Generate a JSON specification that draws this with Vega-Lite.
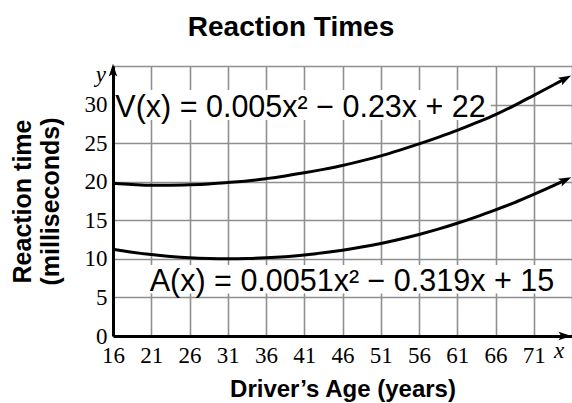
{
  "$schema": "https://vega.github.io/schema/vega-lite/v6.json",
  "width": 459,
  "height": 270,
  "autosize": {"type": "none"},
  "padding": {"left": 113, "top": 66, "right": 0, "bottom": 67},
  "background": "white",
  "title": {
    "text": "Reaction Times",
    "font": "Liberation Sans",
    "fontSize": 28,
    "fontWeight": "bold",
    "color": "black",
    "anchor": "middle",
    "frame": "bounds",
    "offset": 13
  },
  "config": {
    "view": {"stroke": null},
    "axis": {
      "grid": true,
      "gridColor": "#8f8f8f",
      "gridWidth": 1.6,
      "gridOpacity": 1,
      "domainColor": "black",
      "domainWidth": 3,
      "ticks": false,
      "tickCount": 30,
      "labelOverlap": false,
      "labelFlush": false,
      "labelColor": "black",
      "labelFont": "Liberation Serif",
      "labelFontSize": 23,
      "titleColor": "black",
      "titleFont": "Liberation Sans",
      "titleFontWeight": "bold",
      "titleFontSize": 24
    }
  },
  "datasets": {
    "curves": [
      {"age": 16, "ms": 19.8, "f": "V"},
      {"age": 18.5, "ms": 19.65, "f": "V"},
      {"age": 21, "ms": 19.55, "f": "V"},
      {"age": 23.5, "ms": 19.55, "f": "V"},
      {"age": 26, "ms": 19.6, "f": "V"},
      {"age": 28.5, "ms": 19.7, "f": "V"},
      {"age": 31, "ms": 19.9, "f": "V"},
      {"age": 33.5, "ms": 20.1, "f": "V"},
      {"age": 36, "ms": 20.4, "f": "V"},
      {"age": 38.5, "ms": 20.75, "f": "V"},
      {"age": 41, "ms": 21.15, "f": "V"},
      {"age": 43.5, "ms": 21.6, "f": "V"},
      {"age": 46, "ms": 22.1, "f": "V"},
      {"age": 48.5, "ms": 22.7, "f": "V"},
      {"age": 51, "ms": 23.35, "f": "V"},
      {"age": 53.5, "ms": 24.1, "f": "V"},
      {"age": 56, "ms": 24.9, "f": "V"},
      {"age": 58.5, "ms": 25.75, "f": "V"},
      {"age": 61, "ms": 26.65, "f": "V"},
      {"age": 63.5, "ms": 27.65, "f": "V"},
      {"age": 66, "ms": 28.7, "f": "V"},
      {"age": 68.5, "ms": 29.9, "f": "V"},
      {"age": 71, "ms": 31.2, "f": "V"},
      {"age": 73.5, "ms": 32.5, "f": "V"},
      {"age": 75, "ms": 33.3, "f": "V"},
      {"age": 16, "ms": 11.25, "f": "A"},
      {"age": 18.5, "ms": 10.85, "f": "A"},
      {"age": 21, "ms": 10.55, "f": "A"},
      {"age": 23.5, "ms": 10.32, "f": "A"},
      {"age": 26, "ms": 10.15, "f": "A"},
      {"age": 28.5, "ms": 10.05, "f": "A"},
      {"age": 31, "ms": 10.01, "f": "A"},
      {"age": 33.5, "ms": 10.04, "f": "A"},
      {"age": 36, "ms": 10.13, "f": "A"},
      {"age": 38.5, "ms": 10.28, "f": "A"},
      {"age": 41, "ms": 10.5, "f": "A"},
      {"age": 43.5, "ms": 10.78, "f": "A"},
      {"age": 46, "ms": 11.12, "f": "A"},
      {"age": 48.5, "ms": 11.53, "f": "A"},
      {"age": 51, "ms": 12.0, "f": "A"},
      {"age": 53.5, "ms": 12.55, "f": "A"},
      {"age": 56, "ms": 13.16, "f": "A"},
      {"age": 58.5, "ms": 13.85, "f": "A"},
      {"age": 61, "ms": 14.62, "f": "A"},
      {"age": 63.5, "ms": 15.45, "f": "A"},
      {"age": 66, "ms": 16.35, "f": "A"},
      {"age": 68.5, "ms": 17.3, "f": "A"},
      {"age": 71, "ms": 18.35, "f": "A"},
      {"age": 73.5, "ms": 19.45, "f": "A"},
      {"age": 75, "ms": 20.15, "f": "A"}
    ],
    "boxes": [
      {"x1": 16.3, "x2": 65.4, "y1": 28.0, "y2": 31.9},
      {"x1": 20.6, "x2": 73.6, "y1": 5.5, "y2": 9.2}
    ],
    "equations": [
      {"age": 16.3, "ms": 28.45, "label": "V(x) = 0.005x² − 0.23x + 22"},
      {"age": 20.8, "ms": 5.8, "label": "A(x) = 0.0051x² − 0.319x + 15"}
    ],
    "axisletters": [
      {"age": 74.3, "ms": -2.85, "label": "x"},
      {"age": 14.4, "ms": 32.9, "label": "y"}
    ]
  },
  "layer": [
    {
      "data": {"name": "boxes"},
      "mark": {"type": "rect", "fill": "white", "stroke": null},
      "encoding": {
        "x": {"field": "x1", "type": "quantitative", "scale": {"domain": [16, 76], "nice": false, "zero": false},
          "axis": {"values": [16, 21, 26, 31, 36, 41, 46, 51, 56, 61, 66, 71, 76], "tickCount": 30, "labelExpr": "datum.value == 76 ? '' : datum.label", "labelPadding": 8, "title": "Driver’s Age (years)", "titlePadding": 10}},
        "x2": {"field": "x2"},
        "y": {"field": "y1", "type": "quantitative", "scale": {"domain": [0, 35], "nice": false, "zero": true},
          "axis": {"values": [0, 5, 10, 15, 20, 25, 30, 35], "tickCount": 30, "labelExpr": "datum.value == 35 ? '' : datum.label", "labelPadding": 6, "labelOffset": 0, "title": ["Reaction time", "(milliseconds)"], "titleFontSize": 25, "titleLineHeight": 28, "titlePadding": 21}},
        "y2": {"field": "y2"}
      }
    },
    {
      "data": {"name": "curves"},
      "mark": {"type": "line", "color": "black", "strokeWidth": 3, "interpolate": "monotone"},
      "encoding": {
        "x": {"field": "age", "type": "quantitative"},
        "y": {"field": "ms", "type": "quantitative"},
        "detail": {"field": "f"}
      }
    },
    {
      "data": {"values": [{"age": 75, "ms": 33.3}]},
      "mark": {"type": "point", "filled": true, "color": "black", "opacity": 1, "size": 240, "shape": "M1,0 L-0.65,-0.55 L-0.3,0 L-0.65,0.55 Z", "angle": -28},
      "encoding": {"x": {"field": "age", "type": "quantitative"}, "y": {"field": "ms", "type": "quantitative"}}
    },
    {
      "data": {"values": [{"age": 75, "ms": 20.15}]},
      "mark": {"type": "point", "filled": true, "color": "black", "opacity": 1, "size": 240, "shape": "M1,0 L-0.65,-0.55 L-0.3,0 L-0.65,0.55 Z", "angle": -25},
      "encoding": {"x": {"field": "age", "type": "quantitative"}, "y": {"field": "ms", "type": "quantitative"}}
    },
    {
      "data": {"values": [{"age": 74.9, "ms": 0}]},
      "mark": {"type": "point", "filled": true, "color": "black", "opacity": 1, "size": 240, "shape": "M1,0 L-0.65,-0.55 L-0.3,0 L-0.65,0.55 Z", "angle": 0},
      "encoding": {"x": {"field": "age", "type": "quantitative"}, "y": {"field": "ms", "type": "quantitative"}}
    },
    {
      "data": {"values": [{"age": 16, "ms": 34.3}]},
      "mark": {"type": "point", "filled": true, "color": "black", "opacity": 1, "size": 240, "shape": "M1,0 L-0.65,-0.55 L-0.3,0 L-0.65,0.55 Z", "angle": -90},
      "encoding": {"x": {"field": "age", "type": "quantitative"}, "y": {"field": "ms", "type": "quantitative"}}
    },
    {
      "data": {"name": "equations"},
      "mark": {"type": "text", "align": "left", "baseline": "alphabetic", "font": "Liberation Sans", "fontSize": 30.5, "color": "black"},
      "encoding": {
        "x": {"field": "age", "type": "quantitative"},
        "y": {"field": "ms", "type": "quantitative"},
        "text": {"field": "label"}
      }
    },
    {
      "data": {"name": "axisletters"},
      "mark": {"type": "text", "align": "center", "baseline": "alphabetic", "font": "Liberation Serif", "fontStyle": "italic", "fontSize": 23, "color": "black"},
      "encoding": {
        "x": {"field": "age", "type": "quantitative"},
        "y": {"field": "ms", "type": "quantitative"},
        "text": {"field": "label"}
      }
    }
  ]
}
